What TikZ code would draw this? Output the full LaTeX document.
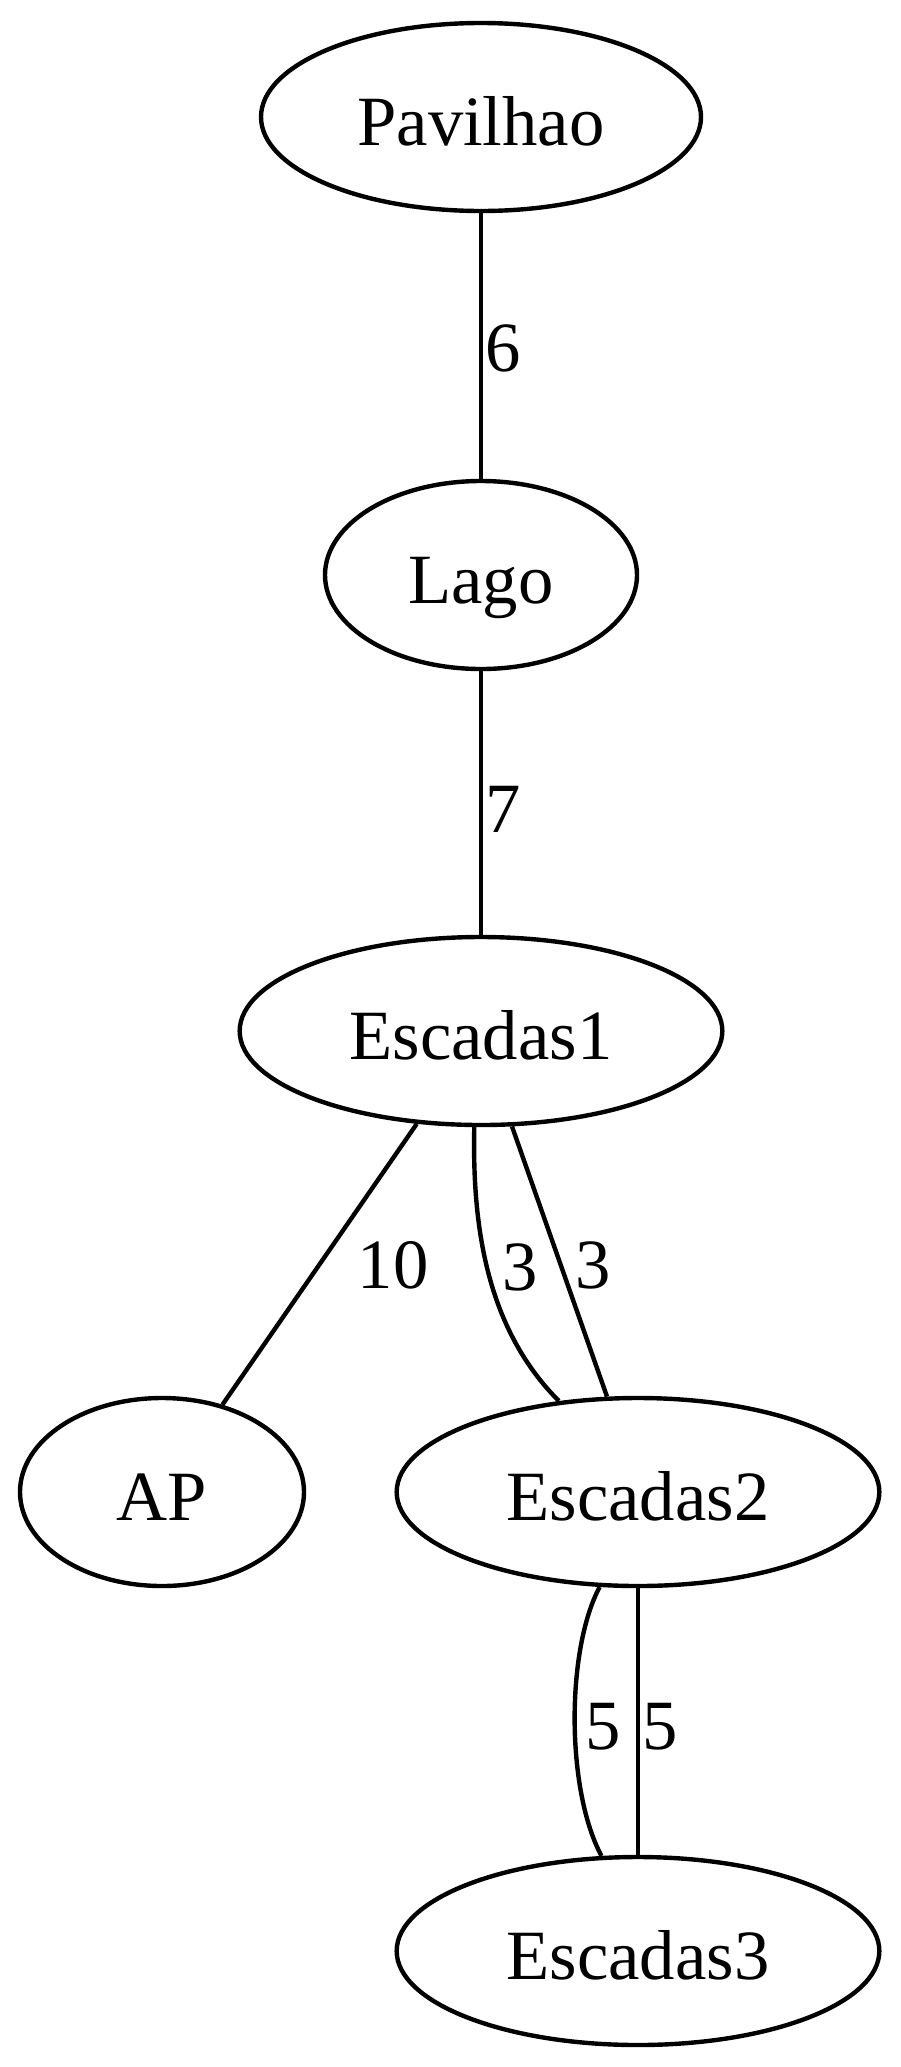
\documentclass[tikz,border=0pt]{standalone}
\usepackage{fontspec}
\setmainfont{Liberation Serif}
\usetikzlibrary{shapes.geometric}

\begin{document}
\begin{tikzpicture}[x=0.75pt,y=-0.75pt,line width=3.3pt,
            place/.style={ellipse,draw=black,inner sep=0pt,minimum height=141pt,text height=42pt,text depth=0pt,font=\fontsize{53}{60}\selectfont},
            weight/.style={inner sep=0pt,anchor=west,font=\fontsize{53}{60}\selectfont}]
            \useasboundingbox (0,0) rectangle (900,2067);

            % places
            \node[place,minimum width=330pt] (pav)  at (481,117)  {Pavilhao};
            \node[place,minimum width=234pt] (lago) at (481,575)  {Lago};
            \node[place,minimum width=362pt] (esc1) at (481,1031) {Escadas1};
            \node[place,minimum width=213pt] (ap)   at (162,1492) {AP};
            \node[place,minimum width=362pt] (esc2) at (638,1492) {Escadas2};
            \node[place,minimum width=362pt] (esc3) at (638,1951) {Escadas3};

            % paths
            \draw (pav) -- node[weight,xshift=1.5pt,yshift=-2pt] {6} (lago);
            \draw (lago) -- node[weight,xshift=1.5pt,yshift=-5pt] {7} (esc1);
            \draw (esc1) -- node[weight,xshift=27pt,yshift=-1pt] {10} (ap);
            \draw (esc1.-94) .. controls (472,1230) and (488,1330) .. (esc2.131);
            \node[weight] (w3a) at (500,1267) {3};
            \draw (esc1.-72) -- node[weight,xshift=10pt,yshift=-3pt] {3} (esc2.108);
            \draw (esc2.-112) .. controls (566,1650) and (566,1790) .. (esc3.111);
            \node[weight] (w5a) at (583,1727) {5};
            \draw (esc2) -- node[weight,xshift=2pt,yshift=-4pt] {5} (esc3);
\end{tikzpicture}
\end{document}
